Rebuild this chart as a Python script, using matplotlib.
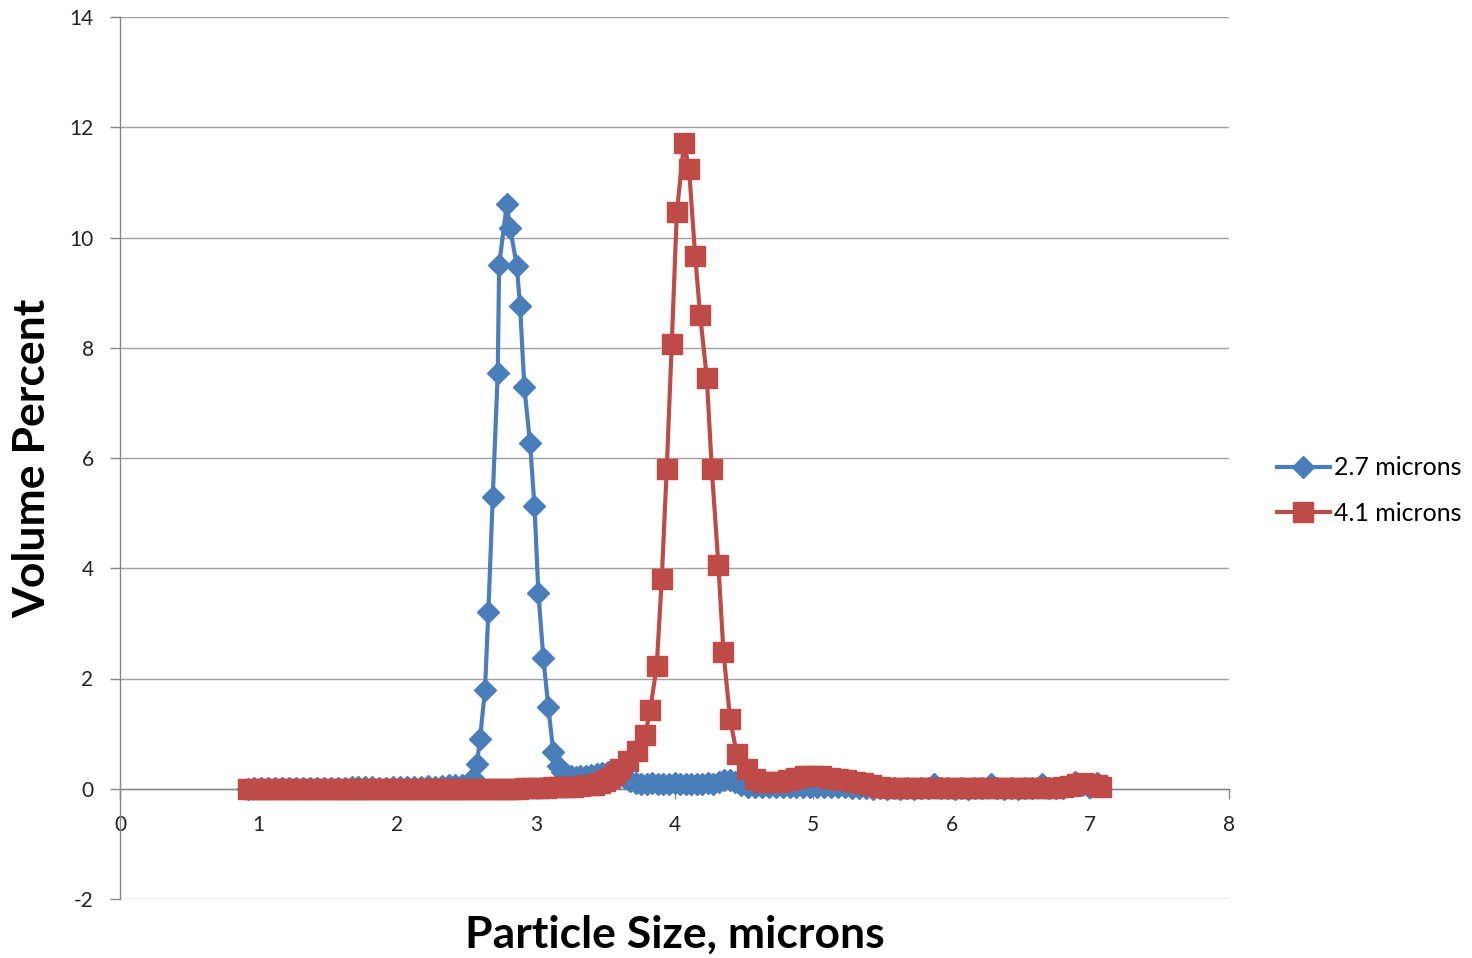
import matplotlib
matplotlib.use('Agg')
import matplotlib.pyplot as plt

plt.rcParams['font.family'] = ['Lato', 'DejaVu Sans']
plt.rcParams['axes.unicode_minus'] = False

# 2.7 micron sample
x_27 = [0.92, 0.97, 1.02, 1.07, 1.12, 1.17, 1.22, 1.27, 1.32, 1.37, 1.42, 1.47,
        1.52, 1.57, 1.62, 1.67, 1.72, 1.77, 1.82, 1.87, 1.92, 1.97, 2.02, 2.07,
        2.12, 2.17, 2.22, 2.27, 2.32, 2.37, 2.42, 2.47, 2.51, 2.55,
        2.574, 2.597, 2.633, 2.657, 2.689, 2.725, 2.735, 2.79, 2.814, 2.862,
        2.886, 2.917, 2.958, 2.99, 3.018, 3.054, 3.09, 3.126, 3.162,
        3.19, 3.22, 3.25, 3.29, 3.32, 3.36, 3.40, 3.44, 3.48, 3.52, 3.56, 3.60,
        3.64, 3.68, 3.72, 3.76, 3.80, 3.84, 3.88, 3.92, 3.96, 4.00, 4.04, 4.08,
        4.12, 4.16, 4.20, 4.24, 4.28, 4.32, 4.36, 4.40, 4.44, 4.48, 4.53, 4.58,
        4.63, 4.68, 4.73, 4.78, 4.83, 4.88, 4.93, 4.98, 5.03, 5.08, 5.13, 5.18,
        5.23, 5.28, 5.33, 5.38, 5.43, 5.48, 5.53, 5.58, 5.63, 5.68, 5.73, 5.78,
        5.83, 5.87, 5.92, 5.97, 6.02, 6.07, 6.12, 6.17, 6.22, 6.28, 6.33, 6.38,
        6.43, 6.48, 6.53, 6.58, 6.65, 6.70, 6.75, 6.80, 6.85, 6.89, 6.94, 6.99,
        7.05]
y_27 = [0.00, 0.01, 0.02, 0.02, 0.01, 0.02, 0.02, 0.01, 0.01, 0.02, 0.01, 0.01,
        0.01, 0.02, 0.02, 0.03, 0.04, 0.03, 0.03, 0.02, 0.02, 0.03, 0.03, 0.04,
        0.03, 0.04, 0.05, 0.04, 0.05, 0.06, 0.07, 0.06, 0.08, 0.20,
        0.45, 0.90, 1.80, 3.20, 5.30, 7.55, 9.50, 10.60, 10.18, 9.49,
        8.76, 7.28, 6.27, 5.13, 3.56, 2.37, 1.48, 0.66, 0.42,
        0.30, 0.26, 0.24, 0.22, 0.24, 0.23, 0.25, 0.27, 0.29, 0.30, 0.28, 0.26,
        0.20, 0.14, 0.10, 0.09, 0.08, 0.10, 0.08, 0.09, 0.08, 0.10, 0.08, 0.09,
        0.08, 0.09, 0.08, 0.10, 0.09, 0.12, 0.15, 0.16, 0.12, 0.06, 0.04, 0.03,
        0.03, 0.04, 0.03, 0.03, 0.04, 0.03, 0.04, 0.03, 0.04, 0.03, 0.04, 0.03,
        0.03, 0.02, 0.01, 0.01, 0.00, 0.01, 0.00, 0.01, 0.00, 0.01, 0.00, 0.01,
        0.02, 0.08, 0.02, 0.01, 0.00, 0.01, 0.00, 0.01, 0.02, 0.08, 0.01, 0.00,
        0.01, 0.00, 0.01, 0.02, 0.08, 0.02, 0.01, 0.02, 0.05, 0.13, 0.06, 0.04,
        0.10]

# 4.1 micron sample
x_41 = [0.92, 0.97, 1.02, 1.07, 1.12, 1.17, 1.22, 1.27, 1.32, 1.37, 1.42, 1.47,
        1.52, 1.57, 1.62, 1.67, 1.72, 1.77, 1.82, 1.87, 1.92, 1.97, 2.02, 2.07,
        2.12, 2.17, 2.22, 2.27, 2.32, 2.37, 2.42, 2.47, 2.52, 2.57, 2.62, 2.67,
        2.72, 2.77, 2.82, 2.87, 2.92, 2.97, 3.02, 3.07, 3.12, 3.17, 3.22, 3.27,
        3.32, 3.37, 3.42, 3.46, 3.50, 3.535, 3.57, 3.61, 3.667, 3.728, 3.788,
        3.824, 3.872, 3.908, 3.944, 3.98, 4.017, 4.069, 4.105, 4.149, 4.185,
        4.233, 4.269, 4.317, 4.353, 4.401, 4.449, 4.52, 4.58, 4.64, 4.70, 4.76,
        4.82, 4.88, 4.94, 5.00, 5.06, 5.12, 5.18, 5.24, 5.30, 5.36, 5.42, 5.48,
        5.54, 5.60, 5.66, 5.72, 5.78, 5.84, 5.90, 5.96, 6.02, 6.08, 6.14, 6.20,
        6.26, 6.32, 6.38, 6.44, 6.50, 6.56, 6.62, 6.68, 6.74, 6.80, 6.85, 6.90,
        6.95, 7.00, 7.05, 7.08]
y_41 = [0.00, 0.00, 0.00, 0.00, 0.00, 0.00, 0.00, 0.00, 0.00, 0.00, 0.00, 0.00,
        0.00, 0.00, 0.00, 0.00, 0.00, 0.00, 0.00, 0.00, 0.00, 0.00, 0.00, 0.00,
        0.00, 0.00, 0.00, 0.00, 0.00, 0.00, 0.00, 0.00, 0.00, 0.00, 0.00, 0.00,
        0.00, 0.00, 0.00, 0.00, 0.01, 0.01, 0.02, 0.02, 0.03, 0.03, 0.04, 0.04,
        0.05, 0.06, 0.07, 0.10, 0.14, 0.20, 0.27, 0.36, 0.51, 0.69, 0.97,
        1.42, 2.23, 3.80, 5.80, 8.06, 10.46, 11.72, 11.24, 9.67, 8.59,
        7.46, 5.80, 4.05, 2.48, 1.27, 0.63, 0.36, 0.18, 0.13, 0.12, 0.13,
        0.16, 0.20, 0.23, 0.24, 0.23, 0.20, 0.17, 0.15, 0.13, 0.10, 0.06, 0.03,
        0.02, 0.02, 0.02, 0.01, 0.02, 0.02, 0.01, 0.02, 0.02, 0.01, 0.02, 0.02,
        0.01, 0.02, 0.02, 0.01, 0.02, 0.02, 0.01, 0.02, 0.02, 0.03, 0.05, 0.08,
        0.10, 0.08, 0.06, 0.04]

labels = ['2.7 microns', '4.1 microns']
blue = '#4A7EBB'
red = '#BE4B48'
grid_gray = '#A0A0A0'

fig = plt.figure(figsize=(14.72, 9.58), dpi=100)
ax = fig.add_axes([120 / 1472, 59 / 958, 1109 / 1472, 882 / 958])

ax.plot(x_27, y_27, color=blue, lw=3, marker='D', markersize=11,
        markeredgecolor=blue, label=labels[0], zorder=3)
ax.plot(x_41, y_41, color=red, lw=3, marker='s', markersize=14,
        markeredgecolor=red, label=labels[1], zorder=4)

ax.set_xlim(0, 8)
ax.set_ylim(-2, 14)
ax.set_xticks(range(0, 9))
ax.set_yticks(range(-2, 15, 2))

ax.spines['top'].set_visible(False)
ax.spines['right'].set_visible(False)
ax.spines['bottom'].set_position(('data', 0))
for s in ('left', 'bottom'):
    ax.spines[s].set_color('#868686')
    ax.spines[s].set_linewidth(1.0)

ax.yaxis.grid(True, color=grid_gray, lw=1.0)
ax.set_axisbelow(True)
ax.tick_params(axis='both', colors='#868686', labelcolor='#222222',
               labelsize=15, length=7, width=1.0, direction='out')
ax.tick_params(axis='x', pad=12)
ax.tick_params(axis='y', pad=12)

ax.set_xlabel('Particle Size, microns', fontsize=32, fontweight='bold')
ax.set_ylabel('Volume Percent', fontsize=32, fontweight='bold')
ax.xaxis.set_label_coords(0.5, -0.041)
ax.yaxis.set_label_coords(-0.079, 0.5)
ax.xaxis.label.set_va('center')
ax.yaxis.label.set_va('center')

fig.legend(loc='center left', bbox_to_anchor=(1277 / 1472, 1 - 490.5 / 958),
           frameon=False, fontsize=18, numpoints=1, borderpad=0,
           borderaxespad=0, handlelength=2.1, handletextpad=0.2,
           labelspacing=0.9)

fig.savefig('out.png', dpi=100)
